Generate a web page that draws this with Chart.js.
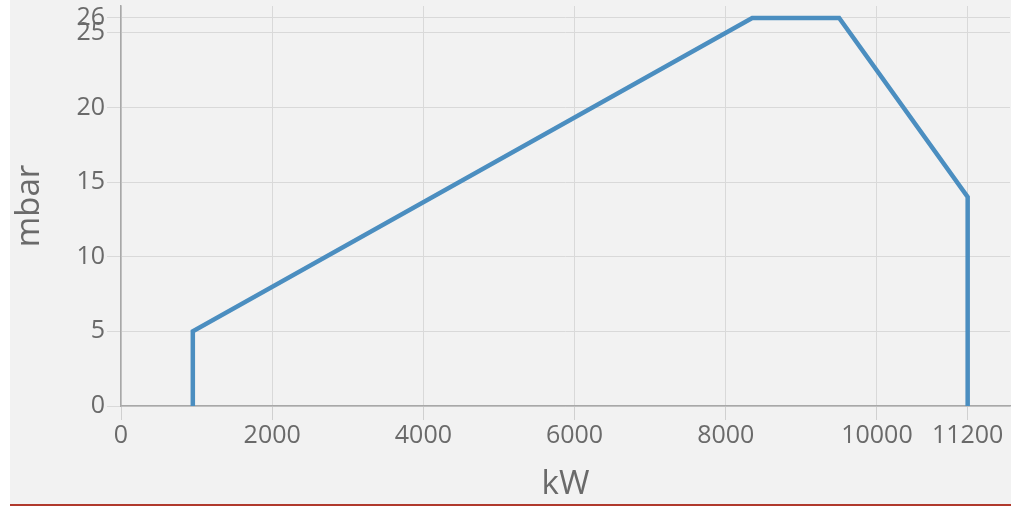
<!DOCTYPE html>
<html>
<head>
<meta charset="utf-8">
<script src="https://cdn.jsdelivr.net/npm/chart.js@4/dist/chart.umd.min.js"></script>
<style>
  html, body { margin: 0; padding: 0; background: #fff; }
  #box {
    position: absolute; left: 10px; top: 0;
    width: 1001px; height: 504px;
    background: #f2f2f2;
    border-bottom: 2px solid #b0392c;
  }
</style>
</head>
<body>
<div id="box"><canvas id="c" width="1001" height="504"></canvas></div>
<script>
// curve points (kW, mbar)
var powerKw = [950, 950, 8350, 9500, 11200, 11200];
var pressureMbar = [0, 5, 26, 26, 14, 0];

// tick labels
var xTicks = [0, 2000, 4000, 6000, 8000, 10000, 11200];
var yTicks = [0, 5, 10, 15, 20, 25, 26];

var pts = powerKw.map(function(x, i) { return { x: x, y: pressureMbar[i] }; });

var grey = '#6a6a6a';
var font = "'Open Sans', sans-serif";

new Chart(document.getElementById('c'), {
  type: 'line',
  data: {
    datasets: [{
      data: pts,
      borderColor: '#4b8ec0',
      borderWidth: 4.5,
      pointRadius: 0,
      fill: false,
      tension: 0
    }]
  },
  options: {
    responsive: false,
    animation: false,
    layout: { padding: { top: 6, right: 1, left: 0, bottom: 0 } },
    plugins: { legend: { display: false }, tooltip: { enabled: false } },
    scales: {
      x: {
        type: 'linear',
        min: 0, max: 11760,
        afterBuildTicks: function(s) { s.ticks = xTicks.map(function(v) { return { value: v }; }); },
        afterFit: function(s) { s.height = 98; s.paddingRight = 0; s.paddingLeft = 0; },
        ticks: { color: grey, font: { family: font, size: 25 }, padding: 1, maxRotation: 0, autoSkip: false,
                 callback: function(v) { return String(v); } },
        grid: { color: '#d9d9d9', tickLength: 14, tickColor: '#d0d0d0' },
        border: { color: '#a8a8a8', width: 1.5 },
        title: { display: true, text: 'kW', color: grey, font: { family: font, size: 33 }, padding: { top: 9, bottom: 0 } }
      },
      y: {
        type: 'linear',
        min: 0, max: 26.8,
        afterBuildTicks: function(s) { s.ticks = yTicks.map(function(v) { return { value: v }; }); },
        afterFit: function(s) { s.width = 111; s.paddingTop = 0; s.paddingBottom = 0; },
        ticks: { color: grey, font: { family: font, size: 25 }, padding: 2, autoSkip: false,
                 callback: function(v) { return String(v); } },
        grid: { color: '#d9d9d9', tickLength: 14, tickColor: '#d9d9d9' },
        border: { color: '#a8a8a8', width: 1.5 },
        title: { display: true, text: 'mbar', color: grey, font: { family: font, size: 33 }, padding: { top: 0, bottom: 30 } }
      }
    }
  }
});
</script>
</body>
</html>
